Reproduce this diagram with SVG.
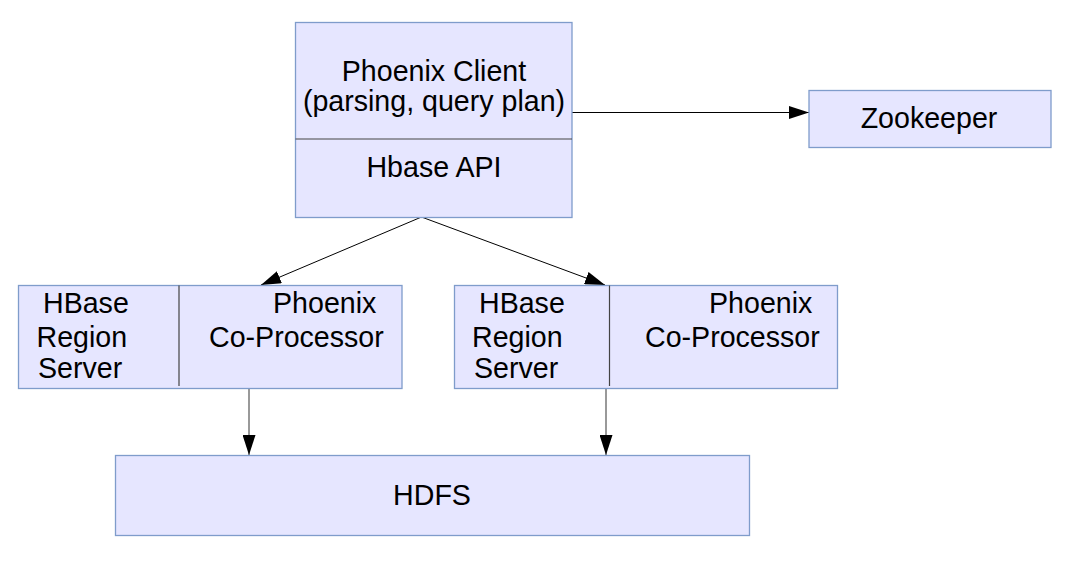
<svg xmlns="http://www.w3.org/2000/svg" width="1073" height="580" viewBox="0 0 1073 580">
<defs>
<style>
.box{fill:#e6e6ff;stroke:#7f9ccb;stroke-width:1.3}
.div{stroke:#444;stroke-width:1.2}
.t{font-family:"Liberation Sans",Arial,sans-serif;font-size:28.6px;fill:#000}
.m{text-anchor:middle}
.c{fill:none;stroke:#000;stroke-width:1}
.g{fill:none;stroke:#777;stroke-width:1.5}
</style>
<marker id="ah" markerWidth="20" markerHeight="13" refX="20" refY="6.5" orient="auto" markerUnits="userSpaceOnUse">
<path d="M0,0 L20,6.5 L0,13 Z" fill="#000"/>
</marker>
</defs>
<rect width="1073" height="580" fill="#fff"/>
<g id="connectors">
<line class="c" x1="572" y1="112.5" x2="809" y2="112.5" marker-end="url(#ah)"/>
<line class="c" x1="421.5" y1="217" x2="261" y2="285" marker-end="url(#ah)"/>
<line class="c" x1="421.5" y1="217" x2="605" y2="285" marker-end="url(#ah)"/>
<line class="g" x1="249" y1="388" x2="249" y2="455" marker-end="url(#ah)"/>
<line class="g" x1="606" y1="388" x2="606" y2="455" marker-end="url(#ah)"/>
</g>
<g id="phoenix-client">
<rect class="box" x="295.5" y="22.5" width="276.5" height="195"/>
<line class="div" x1="295.5" y1="139" x2="572" y2="139"/>
<text class="t m" x="434" y="81">Phoenix Client</text>
<text class="t m" x="434" y="111">(parsing, query plan)</text>
<text class="t m" x="434" y="177">Hbase API</text>
</g>
<g id="zookeeper">
<rect class="box" x="809" y="90.5" width="242" height="57"/>
<text class="t m" x="929" y="128">Zookeeper</text>
</g>
<g id="region-server-1">
<rect class="box" x="18.5" y="285.5" width="383.5" height="103"/>
<line class="div" x1="179" y1="285.5" x2="179" y2="386"/>
<text class="t" x="43" y="313">HBase</text>
<text class="t" x="36.5" y="346.5">Region</text>
<text class="t" x="38" y="378">Server</text>
<text class="t" x="273" y="313">Phoenix</text>
<text class="t" x="209" y="346.5">Co-Processor</text>
</g>
<g id="region-server-2">
<rect class="box" x="454.5" y="285.5" width="383" height="103"/>
<line class="div" x1="609.5" y1="285.5" x2="609.5" y2="386"/>
<text class="t" x="479" y="313">HBase</text>
<text class="t" x="472" y="346.5">Region</text>
<text class="t" x="474" y="378">Server</text>
<text class="t" x="709" y="313">Phoenix</text>
<text class="t" x="645" y="346.5">Co-Processor</text>
</g>
<g id="hdfs">
<rect class="box" x="115.5" y="455.5" width="634" height="80"/>
<text class="t m" x="432" y="505">HDFS</text>
</g>
</svg>
